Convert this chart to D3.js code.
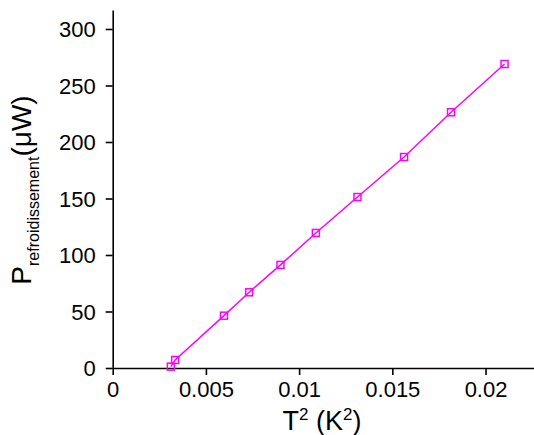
<!DOCTYPE html>
<html>
<head>
<meta charset="utf-8">
<script src="https://cdn.jsdelivr.net/npm/d3@7"></script>
<style>
  body { margin: 0; background: #fff; }
  text { font-family: "Liberation Sans", Arial, sans-serif; }
</style>
</head>
<body>
<div class="stage"></div>
<script>
// T^2 (K^2) vs cooling power (uW)
var tSquared = [0.00312, 0.00335, 0.00597, 0.00732, 0.0090, 0.01090, 0.01313, 0.01563, 0.01815, 0.02102];
var pCool = [1.2, 7.1, 46.3, 67.0, 91.2, 119.5, 151.3, 186.7, 226.3, 269.0];
var xTicks = [0, 0.005, 0.01, 0.015, 0.02];
var xTickLabels = ["0", "0.005", "0.01", "0.015", "0.02"];
var yTicks = [0, 50, 100, 150, 200, 250, 300];

var chart = {};
chart.w = 534;
chart.h = 435;
chart.color = "#ff00ff";

chart.svg = d3.select(".stage").append("svg").attr("width", chart.w).attr("height", chart.h);

chart.x = d3.scaleLinear().domain([0, 0.0226]).range([112.7, 534]);
chart.y = d3.scaleLinear().domain([0, 316.8]).range([368, 10]);

var xAxis = d3.axisBottom(chart.x).tickValues(xTicks).tickSize(7).tickSizeOuter(0)
  .tickFormat(function(d, i){ return xTickLabels[i]; });
var yAxis = d3.axisLeft(chart.y).tickValues(yTicks).tickSize(7).tickSizeOuter(0);

var gx = chart.svg.append("g").attr("transform", "translate(0," + chart.y(0) + ")").call(xAxis);
var gy = chart.svg.append("g").attr("transform", "translate(" + chart.x(0) + ",0)").call(yAxis);

[gx, gy].forEach(function(g){
  g.selectAll("path, line").attr("stroke", "#000").attr("stroke-width", 1.6);
  g.selectAll("text").attr("fill", "#000").style("font-size", "22px")
    .style("font-family", "'Liberation Sans', Arial, sans-serif");
});
gx.selectAll("text").attr("dy", "0.71em").attr("y", 13);
gy.selectAll("text").attr("x", -17).attr("dy", "0.35em");

var pts = tSquared.map(function(t, i){ return {x: t, y: pCool[i]}; });

chart.svg.append("path").datum(pts)
  .attr("fill", "none").attr("stroke", chart.color).attr("stroke-width", 1.5)
  .attr("d", d3.line().x(function(d){ return chart.x(d.x); }).y(function(d){ return chart.y(d.y); }));

var s = 7;
chart.svg.selectAll("rect.pt").data(pts).enter().append("rect")
  .attr("class", "pt")
  .attr("x", function(d){ return chart.x(d.x) - s / 2; })
  .attr("y", function(d){ return chart.y(d.y) - s / 2; })
  .attr("width", s).attr("height", s)
  .attr("fill", "none").attr("stroke", chart.color).attr("stroke-width", 1.5);

// x title
var xt = chart.svg.append("text").attr("x", 322).attr("y", 430).attr("text-anchor", "middle")
  .style("font-size", "27px").attr("fill", "#000");
xt.append("tspan").text("T");
xt.append("tspan").text("2").style("font-size", "17px").attr("dy", -10);
xt.append("tspan").text(" (K").style("font-size", "27px").attr("dy", 10);
xt.append("tspan").text("2").style("font-size", "17px").attr("dy", -10);
xt.append("tspan").text(")").style("font-size", "27px").attr("dy", 10);

// y title
var yt = chart.svg.append("text").attr("transform", "translate(31,190) rotate(-90)")
  .attr("text-anchor", "middle").style("font-size", "28px").attr("fill", "#000");
yt.append("tspan").text("P");
yt.append("tspan").text("refroidissement").style("font-size", "16px").attr("dy", 8);
yt.append("tspan").text("(\u03bcW)").style("font-size", "28px").attr("dy", -8);
</script>
</body>
</html>
